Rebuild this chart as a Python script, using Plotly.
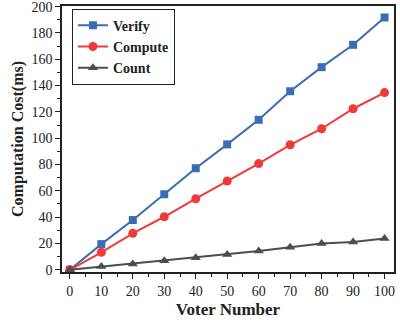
import plotly.graph_objects as go

voters = [0, 10, 20, 30, 40, 50, 60, 70, 80, 90, 100]
verify = [0, 19.5, 37.8, 57.4, 77.2, 95.3, 114, 135.7, 154, 171, 191.8]
compute = [0, 13.3, 27.7, 40.3, 54, 67.5, 80.7, 95, 107.2, 122.4, 134.7]
count = [0, 2.4, 4.4, 6.9, 9.2, 11.6, 14.2, 17.2, 19.9, 21.1, 23.8]
y_ticks = [0, 20, 40, 60, 80, 100, 120, 140, 160, 180, 200]

font = "Liberation Serif, Times New Roman, serif"

fig = go.Figure()
fig.add_trace(go.Scatter(x=voters, y=verify, name="<b>Verify</b>", mode="lines+markers",
                         line=dict(color="#3B6DB5", width=2),
                         marker=dict(symbol="square", size=8, color="#3B6DB5")))
fig.add_trace(go.Scatter(x=voters, y=compute, name="<b>Compute</b>", mode="lines+markers",
                         line=dict(color="#EE3A3A", width=2),
                         marker=dict(symbol="circle", size=9, color="#EE3A3A")))
fig.add_trace(go.Scatter(x=voters, y=count, name="<b>Count</b>", mode="lines+markers",
                         line=dict(color="#4D4D4D", width=2),
                         marker=dict(symbol="triangle-up", size=9, color="#4D4D4D")))

axis_common = dict(showgrid=False, zeroline=False, showline=True, linecolor="#222",
                   linewidth=1.5, mirror=True, ticks="outside", ticklen=5,
                   tickwidth=1.2, tickcolor="#222", automargin=False,
                   ticklabeloverflow="allow",
                   tickprefix="<b>", ticksuffix="</b>",
                   tickfont=dict(family=font, size=14, color="#222"))

fig.update_layout(
    width=400, height=322,
    margin=dict(l=62, r=6, t=6, b=50),
    plot_bgcolor="white", paper_bgcolor="white",
    font=dict(family=font, color="#222"),
    xaxis=dict(range=[-2.5, 103], tickvals=voters,
               minor=dict(dtick=5, ticks="outside", ticklen=3, tickcolor="#222"),
               title=dict(text="<b>Voter Number</b>", font=dict(family=font, size=17), standoff=6),
               **axis_common),
    yaxis=dict(range=[-1.7, 200.5], tickvals=y_ticks,
               minor=dict(dtick=10, ticks="outside", ticklen=3, tickcolor="#222"),
               title=dict(text="<b>Computation Cost(ms)</b>", font=dict(family=font, size=16), standoff=4),
               **axis_common),
    legend=dict(x=0.03, y=0.99, xanchor="left", yanchor="top",
                bordercolor="#222", borderwidth=1, bgcolor="white",
                font=dict(family=font, size=14, color="#222"),
                tracegroupgap=0, itemwidth=30),
)

fig.write_html("out.html", config={"displayModeBar": False},
               post_script="document.body.style.margin='0';")
